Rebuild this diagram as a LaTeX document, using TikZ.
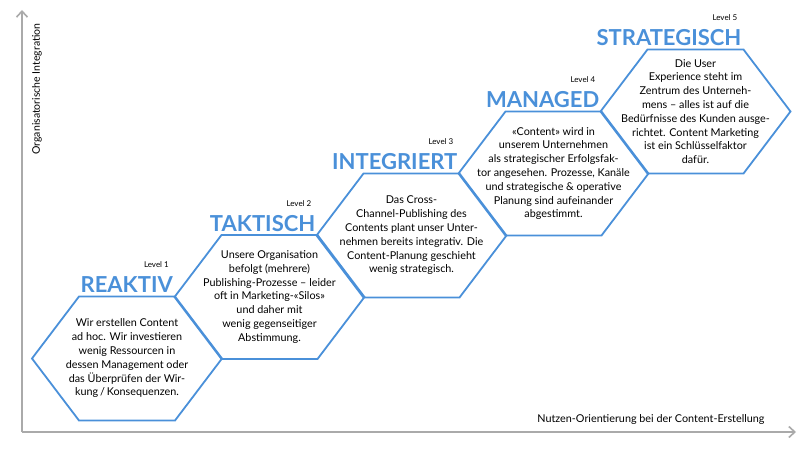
\documentclass[tikz,border=0pt]{standalone}
\usepackage{fontspec}
\setmainfont{Lato}
\usetikzlibrary{arrows.meta}
\definecolor{hexblue}{RGB}{74,144,217}
\definecolor{axisgray}{RGB}{170,170,170}
\tikzset{
  hexbox/.style={draw=hexblue,line width=1.8pt,line join=miter},
  bodytext/.style={align=center,font=\fontsize{10.8}{13.8}\selectfont,inner sep=0pt},
  titletext/.style={anchor=base east,text=hexblue,font=\fontsize{22}{22}\selectfont\bfseries,inner sep=0pt},
  leveltext/.style={anchor=base east,font=\fontsize{8}{8}\selectfont,inner sep=0pt},
  axisline/.style={draw=axisgray,line width=1.6pt,-{Straight Barb[length=6pt,width=11pt]}}
}
\begin{document}
\begin{tikzpicture}[x=1pt,y=-1pt]
\useasboundingbox (0,0) rectangle (804,452);
\coordinate (o) at (22,432);
\coordinate (ytop) at (22,10);
\coordinate (xend) at (796,432);
\draw[axisline] (o) -- (ytop);
\draw[axisline] (o) -- (xend);
\node[rotate=90,anchor=east,font=\fontsize{10.5}{10.5}\selectfont] (ylab) at (37,20) {Organisatorische Integration};
\node[anchor=base east,font=\fontsize{10.8}{10.8}\selectfont] (xlab) at (768,422) {Nutzen-Orientierung bei der Content-Erstellung};
\foreach \i/\cx/\cy in {1/127/358.5, 2/269.5/297, 3/411.5/235.5, 4/553.5/173.5, 5/695.5/111.5}{
  \draw[hexbox] (\cx-95,\cy) -- (\cx-48,\cy-62) -- (\cx+48,\cy-62) -- (\cx+95,\cy) -- (\cx+48,\cy+62) -- (\cx-48,\cy+62) -- cycle;
  \coordinate (c\i) at (\cx,\cy);
  \coordinate (tr\i) at (\cx+46,\cy-66);
}
\node[titletext] (t1) at (tr1) {REAKTIV};
\node[titletext] (t2) at (tr2) {TAKTISCH};
\node[titletext] (t3) at (tr3) {INTEGRIERT};
\node[titletext] (t4) at (tr4) {MANAGED};
\node[titletext] (t5) at (tr5) {STRATEGISCH};
\foreach \i in {1,...,5}{
  \node[leveltext] (l\i) at ([yshift=25pt,xshift=-4pt]tr\i) {Level \i};
}
\node[bodytext] (b1) at (c1) {Wir erstellen Content\\ad hoc. Wir investieren\\wenig Ressourcen in\\dessen Management oder\\das Überprüfen der Wir-\\kung\,/\,Konsequenzen.};
\node[bodytext] (b2) at (c2) {Unsere Organisation\\befolgt (mehrere)\\Publishing-Prozesse – leider\\oft in Marketing-«Silos»\\und daher mit\\wenig gegenseitiger\\Abstimmung.};
\node[bodytext] (b3) at (c3) {Das Cross-\\Channel-Publishing des\\Contents plant unser Unter-\\nehmen bereits integrativ. Die\\Content-Planung geschieht\\wenig strategisch.};
\node[bodytext] (b4) at (c4) {«Content» wird in\\unserem Unternehmen\\als strategischer Erfolgsfak-\\tor angesehen. Prozesse, Kanäle\\und strategische \& operative\\Planung sind aufeinander\\abgestimmt.};
\node[bodytext] (b5) at (c5) {Die User\\Experience steht im\\Zentrum des Unterneh-\\mens – alles ist auf die\\Bedürfnisse des Kunden ausge-\\richtet. Content Marketing\\ist ein Schlüsselfaktor\\dafür.};
\end{tikzpicture}
\end{document}
